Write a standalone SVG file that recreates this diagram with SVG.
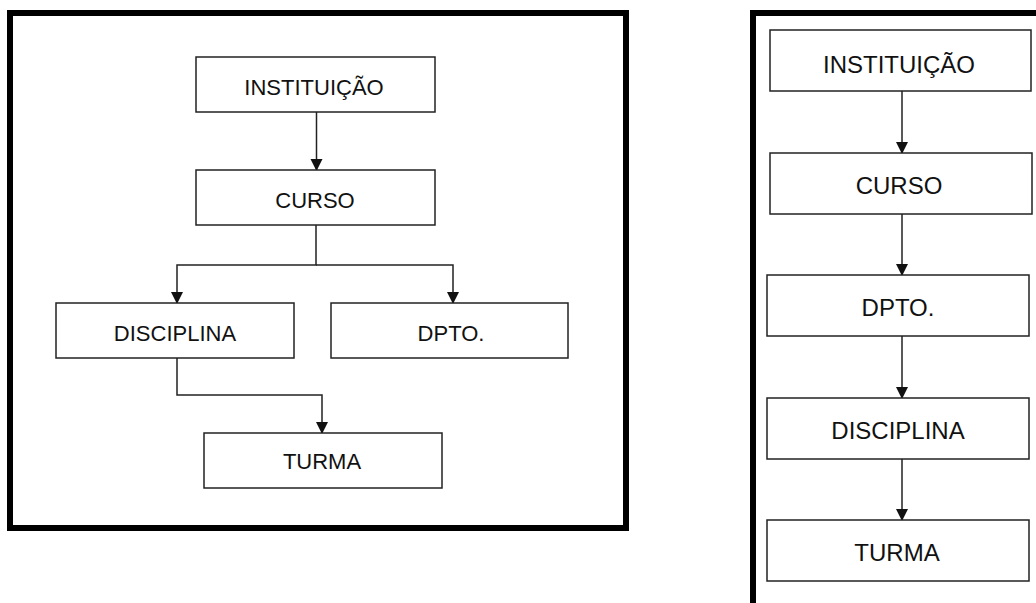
<svg xmlns="http://www.w3.org/2000/svg" width="1036" height="603" viewBox="0 0 1036 603">
<style>
.box{fill:#fff;stroke:#222;stroke-width:1.5}
.t{font-family:"Liberation Sans",Arial,sans-serif;font-size:22px;fill:#111;text-anchor:middle}
.t2{font-family:"Liberation Sans",Arial,sans-serif;font-size:24px;fill:#111;text-anchor:middle}
.c{fill:none;stroke:#222;stroke-width:1.5}
.frame{fill:none;stroke:#000;stroke-width:6}
</style>
<defs>
<marker id="ah" markerUnits="userSpaceOnUse" markerWidth="12" markerHeight="14" refX="11" refY="6" orient="auto" viewBox="0 0 12 12">
<path d="M0,0 L12,6 L0,12 Z" fill="#111"/>
</marker>
</defs>
<rect width="1036" height="603" fill="#fff"/>
<rect class="frame" x="10" y="13" width="616" height="515"/>
<path class="frame" d="M753,603 V13 H1036"/>

<g id="connectors">
<path class="c" d="M316.5,112 V170" marker-end="url(#ah)"/>
<path class="c" d="M316,225 V265 H177 V303" marker-end="url(#ah)"/>
<path class="c" d="M316,265 H453 V303" marker-end="url(#ah)"/>
<path class="c" d="M177,358 V395 H322 V433" marker-end="url(#ah)"/>
<path class="c" d="M902,91 V153" marker-end="url(#ah)"/>
<path class="c" d="M902,214 V275" marker-end="url(#ah)"/>
<path class="c" d="M902,336 V398" marker-end="url(#ah)"/>
<path class="c" d="M902,459 V520" marker-end="url(#ah)"/>
</g>

<g id="l-instituicao"><rect class="box" x="196" y="57" width="239" height="55"/><text class="t" x="314" y="95">INSTITUIÇÃO</text></g>
<g id="l-curso"><rect class="box" x="196" y="170" width="239" height="55"/><text class="t" x="315" y="208">CURSO</text></g>
<g id="l-disciplina"><rect class="box" x="56" y="303" width="238" height="55"/><text class="t" x="175" y="341">DISCIPLINA</text></g>
<g id="l-dpto"><rect class="box" x="331" y="303" width="237" height="55"/><text class="t" x="451" y="341">DPTO.</text></g>
<g id="l-turma"><rect class="box" x="204" y="433" width="238" height="55"/><text class="t" x="322" y="469">TURMA</text></g>

<g id="r-instituicao"><rect class="box" x="770" y="30" width="261" height="61"/><text class="t2" x="899" y="73">INSTITUIÇÃO</text></g>
<g id="r-curso"><rect class="box" x="770" y="153" width="262" height="61"/><text class="t2" x="899" y="194">CURSO</text></g>
<g id="r-dpto"><rect class="box" x="767" y="275" width="262" height="61"/><text class="t2" x="898" y="316">DPTO.</text></g>
<g id="r-disciplina"><rect class="box" x="767" y="398" width="262" height="61"/><text class="t2" x="898" y="439">DISCIPLINA</text></g>
<g id="r-turma"><rect class="box" x="767" y="520" width="262" height="61"/><text class="t2" x="897" y="561">TURMA</text></g>
</svg>
